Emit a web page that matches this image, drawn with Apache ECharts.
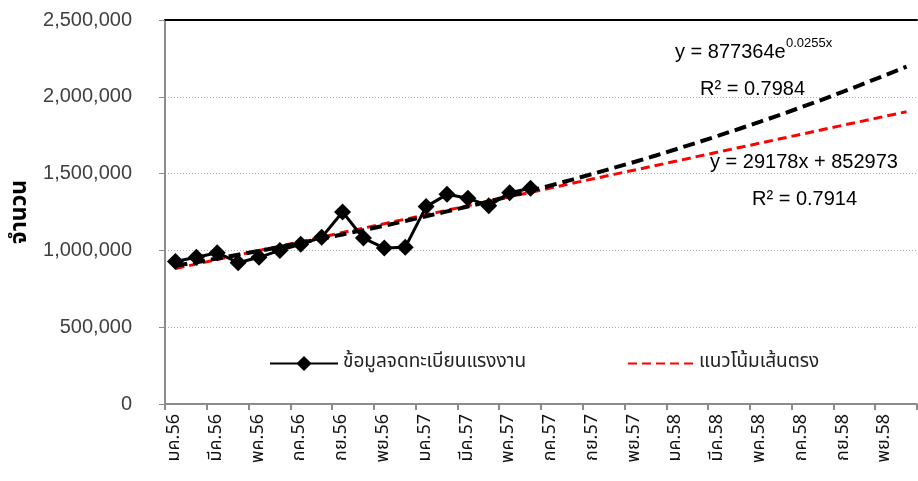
<!DOCTYPE html>
<html>
<head>
<meta charset="utf-8">
<script src="https://cdn.jsdelivr.net/npm/echarts@6/dist/echarts.min.js"></script>
<style>
  html, body { margin: 0; padding: 0; background: #fff; }
  #chart { width: 918px; height: 481px; }
</style>
</head>
<body>
<div id="chart"></div>
<script>
// เดือน ม.ค.56 - ธ.ค.58
var months = [
  'มค.56','กพ.56','มีค.56','เมย.56','พค.56','มิย.56','กค.56','สค.56','กย.56','ตค.56','พย.56','ธค.56',
  'มค.57','กพ.57','มีค.57','เมย.57','พค.57','มิย.57','กค.57','สค.57','กย.57','ตค.57','พย.57','ธค.57',
  'มค.58','กพ.58','มีค.58','เมย.58','พค.58','มิย.58','กค.58','สค.58','กย.58','ตค.58','พย.58','ธค.58'
];
// ข้อมูลจดทะเบียนแรงงาน (18 เดือน)
var labour = [928000, 955000, 985000, 920000, 955000, 1000000, 1040000, 1085000, 1250000,
  1080000, 1015000, 1020000, 1285000, 1365000, 1340000, 1290000, 1375000, 1405000];
// แนวโน้มเส้นตรง y = 29178x + 852973
var linTrend = [882000, 911000, 941000, 970000, 999000, 1028000, 1057000, 1086000, 1116000,
  1145000, 1174000, 1203000, 1232000, 1261000, 1291000, 1320000, 1349000, 1378000,
  1407000, 1437000, 1466000, 1495000, 1524000, 1553000, 1582000, 1612000, 1641000,
  1670000, 1699000, 1728000, 1757000, 1787000, 1816000, 1845000, 1874000, 1903000];
// แนวโน้ม exponential y = 877364e^0.0255x
var expTrend = [900000, 923000, 947000, 972000, 997000, 1022000, 1049000, 1076000, 1104000,
  1132000, 1161000, 1191000, 1222000, 1254000, 1286000, 1319000, 1353000, 1388000,
  1424000, 1461000, 1499000, 1538000, 1577000, 1618000, 1660000, 1703000, 1747000,
  1792000, 1838000, 1885000, 1934000, 1984000, 2035000, 2088000, 2142000, 2197000];
var yTicks = [0, 500000, 1000000, 1500000, 2000000, 2500000];

var thaiFont = '"Noto Sans Thai", "Liberation Sans", "Noto Sans", sans-serif';
var numFont = '"Liberation Sans", Arial, sans-serif';

var myChart = echarts.init(document.getElementById('chart'));
var option = {
  backgroundColor: '#fff',
  animation: false,
  grid: { left: 165, right: 1, top: 20, bottom: 77, outerBoundsMode: 'none', containLabel: false },
  legend: [
    {
      data: ['ข้อมูลจดทะเบียนแรงงาน'],
      left: 264, top: 349,
      itemWidth: 68, itemHeight: 19, itemGap: 0,
      textStyle: { fontFamily: thaiFont, fontSize: 19, color: '#222' }
    },
    {
      data: ['แนวโน้มเส้นตรง'],
      left: 622, top: 349,
      itemWidth: 66, itemHeight: 19,
      itemStyle: { opacity: 0 },
      textStyle: { fontFamily: thaiFont, fontSize: 19, color: '#222' }
    }
  ],
  xAxis: [
    {
      type: 'category',
      data: months,
      boundaryGap: true,
      axisLine: { lineStyle: { color: '#8c8c8c', width: 2 } },
      axisTick: { show: true, length: 6, lineStyle: { color: '#8c8c8c', width: 2 } },
      axisLabel: {
        interval: 1, rotate: 90, margin: 10,
        fontFamily: thaiFont, fontSize: 18, color: '#111'
      }
    },
    {
      type: 'category',
      data: months,
      position: 'top',
      axisLine: { lineStyle: { color: '#000', width: 2 } },
      axisTick: { show: false },
      axisLabel: { show: false }
    }
  ],
  yAxis: {
    type: 'value',
    min: 0, max: 2500000, interval: 500000,
    name: 'จำนวน',
    nameLocation: 'middle',
    nameRotate: 90,
    nameGap: 132,
    nameMoveOverlap: false,
    nameTextStyle: { fontFamily: thaiFont, fontSize: 23, fontWeight: 'bold', color: '#000' },
    axisLine: { show: true, lineStyle: { color: '#8c8c8c', width: 2 } },
    axisTick: { show: true, length: 6, lineStyle: { color: '#8c8c8c', width: 1 } },
    axisLabel: {
      margin: 33,
      fontFamily: numFont, fontSize: 20, color: '#404040',
      formatter: function (v) {
        return yTicks.indexOf(v) >= 0 ? v.toLocaleString('en-US') : '';
      }
    },
    splitLine: { show: true, lineStyle: { color: '#b0b0b0', type: [1, 2], width: 1 } }
  },
  series: [
    {
      name: 'แนวโน้มเส้นตรง',
      type: 'line',
      data: linTrend,
      symbol: 'none',
      z: 2,
      lineStyle: { color: '#ff0000', width: 3, type: [9, 5] },
      itemStyle: { color: '#ff0000' }
    },
    {
      name: 'แนวโน้ม exponential',
      type: 'line',
      data: expTrend,
      symbol: 'none',
      z: 3,
      lineStyle: { color: '#000', width: 4, type: [12, 6] },
      itemStyle: { color: '#000' }
    },
    {
      name: 'ข้อมูลจดทะเบียนแรงงาน',
      type: 'line',
      data: labour,
      symbol: 'diamond',
      symbolSize: 17,
      showAllSymbol: true,
      z: 4,
      lineStyle: { color: '#000', width: 3 },
      itemStyle: { color: '#000' }
    }
  ],
  graphic: [
    { type: 'text', left: 675, top: 42, style: { text: 'y = 877364e', font: '20px ' + numFont, fill: '#000' } },
    { type: 'text', left: 786, top: 37, style: { text: '0.0255x', font: '13px ' + numFont, fill: '#000' } },
    { type: 'text', left: 700, top: 79, style: { text: 'R² = 0.7984', font: '20px ' + numFont, fill: '#000' } },
    { type: 'text', left: 710, top: 152, style: { text: 'y = 29178x + 852973', font: '20px ' + numFont, fill: '#000' } },
    { type: 'text', left: 752, top: 189, style: { text: 'R² = 0.7914', font: '20px ' + numFont, fill: '#000' } }
  ]
};
myChart.setOption(option);
</script>
</body>
</html>
